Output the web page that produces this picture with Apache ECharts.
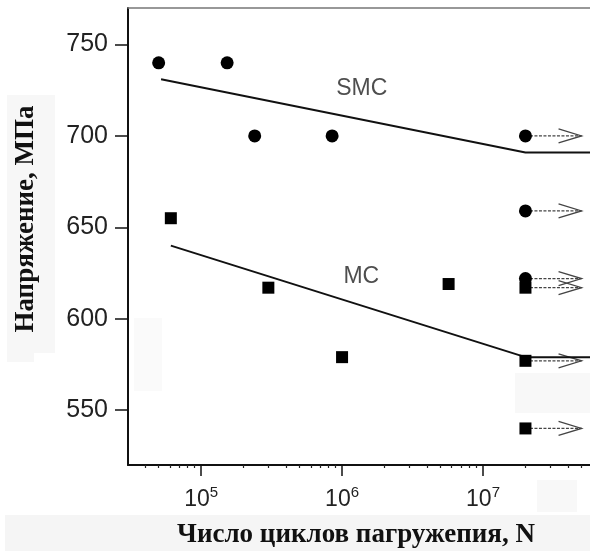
<!DOCTYPE html>
<html>
<head>
<meta charset="utf-8">
<title>Усталостная прочность SMC и MC</title>
<script src="https://cdn.jsdelivr.net/npm/echarts@6/dist/echarts.min.js"></script>
<style>
  html, body { margin: 0; padding: 0; background: #ffffff; }
  #chart { width: 590px; height: 551px; }
</style>
</head>
<body>
<div id="chart"></div>
<script>
// Fatigue test results: SMC (circles) and MC (squares)
const smcCycles = [5.0e4, 1.53e5, 2.4e5, 8.5e5, 2.0e7, 2.0e7, 2.0e7];
const smcStress = [740, 740, 700, 700, 700, 659, 622];
const mcCycles = [6.1e4, 3.0e5, 1.0e6, 5.7e6, 2.0e7, 2.0e7, 2.0e7];
const mcStress = [655, 617, 579, 619, 617, 577, 540];

// Fitted S-N lines
const smcFitCycles = [5.2e4, 2.0e7, 5.74e7];
const smcFitStress = [731, 691, 691];
const mcFitCycles = [6.1e4, 2.0e7, 5.74e7];
const mcFitStress = [640, 579, 579];

// Run-outs (specimens that did not fail)
const runoutStress = [700, 659, 622, 617, 577, 540];
const runoutStart = 2.0e7;
const runoutEnd = 5.0e7;

// Curve captions
const curveNames = ['SMC', 'MC'];
const curveLabelCycles = [1.38e6, 1.37e6];
const curveLabelStress = [726, 623];

// Axis ticks
const cycleTicks = [1e5, 1e6, 1e7];
const cycleMinorTicks = [4e4, 5e4, 6e4, 7e4, 8e4, 9e4,
  2e5, 3e5, 4e5, 5e5, 6e5, 7e5, 8e5, 9e5,
  2e6, 3e6, 4e6, 5e6, 6e6, 7e6, 8e6, 9e6,
  2e7, 3e7, 4e7, 5e7];
const stressTicks = [550, 600, 650, 700, 750];

const xMin = 3.03e4, xMax = 5.74e7;
const yMin = 520, yMax = 770;

const zip = (xs, ys) => xs.map((x, i) => [x, ys[i]]);

const chart = echarts.init(document.getElementById('chart'), null, { renderer: 'canvas' });

const tickFont = 'Liberation Sans, Arial, sans-serif';
const titleFont = 'Liberation Serif, Times New Roman, serif';

const option = {
  backgroundColor: '#ffffff',
  animation: false,
  grid: { left: 128, right: 0, top: 8, bottom: 86, containLabel: false, outerBoundsMode: 'none' },
  graphic: [
    // faint scan bands behind the titles
    { type: 'rect', z: -10, shape: { x: 7, y: 95, width: 48, height: 258 }, style: { fill: '#f7f7f7' } },
    { type: 'rect', z: -10, shape: { x: 7, y: 353, width: 27, height: 9 }, style: { fill: '#f7f7f7' } },
    { type: 'rect', z: -10, shape: { x: 5, y: 515, width: 585, height: 36 }, style: { fill: '#f5f5f5' } },
    { type: 'rect', z: -10, shape: { x: 134, y: 318, width: 28, height: 73 }, style: { fill: '#fafafa' } },
    { type: 'rect', z: -10, shape: { x: 515, y: 373, width: 75, height: 40 }, style: { fill: '#f8f8f8' } },
    { type: 'rect', z: -10, shape: { x: 537, y: 480, width: 40, height: 32 }, style: { fill: '#f8f8f8' } },
    {
      type: 'text', x: 26, y: 219, rotation: Math.PI / 2,
      style: {
        text: 'Напряжение, МПа', fill: '#111', font: 'bold 27px ' + titleFont,
        textAlign: 'center', textVerticalAlign: 'middle'
      }
    },
    {
      type: 'text', x: 356, y: 535,
      style: {
        text: 'Число циклов пагружепия, N', fill: '#111', font: 'bold 27px ' + titleFont,
        textAlign: 'center', textVerticalAlign: 'middle'
      }
    }
  ],
  xAxis: [
    {
      type: 'log', logBase: 10, min: xMin, max: xMax, position: 'bottom',
      axisLine: { show: true, lineStyle: { color: '#111', width: 2 } },
      axisTick: { show: true, customValues: cycleTicks, length: 11, inside: false, lineStyle: { color: '#111', width: 1.5 } },
      axisLabel: {
        show: true, customValues: cycleTicks, margin: 20,
        formatter: v => '{b|10}{s|' + Math.round(Math.log10(v)) + '}',
        rich: {
          b: { fontFamily: tickFont, fontSize: 23, color: '#222', lineHeight: 26, verticalAlign: 'bottom' },
          s: { fontFamily: tickFont, fontSize: 15, color: '#222', lineHeight: 15, verticalAlign: 'top' }
        }
      },
      splitLine: { show: false }
    },
    {
      type: 'log', logBase: 10, min: xMin, max: xMax, position: 'bottom',
      axisLine: { show: false },
      axisTick: { show: true, customValues: cycleMinorTicks, length: 3, inside: false, lineStyle: { color: '#222', width: 1.2 } },
      axisLabel: { show: false },
      splitLine: { show: false }
    },
    {
      type: 'log', logBase: 10, min: xMin, max: xMax, position: 'top',
      axisLine: { show: true, lineStyle: { color: '#777', width: 1.5 } },
      axisTick: { show: false },
      axisLabel: { show: false },
      splitLine: { show: false }
    }
  ],
  yAxis: {
    type: 'value', min: yMin, max: yMax,
    axisLine: { show: true, lineStyle: { color: '#111', width: 2 } },
    axisTick: { show: true, customValues: stressTicks, length: 13, inside: false, lineStyle: { color: '#111', width: 1.5 } },
    axisLabel: { show: true, customValues: stressTicks, margin: 20, fontFamily: tickFont, fontSize: 25, color: '#222' },
    splitLine: { show: false }
  },
  series: [
    {
      // run-out arrows
      type: 'custom', name: 'runout', z: 1, silent: true,
      data: runoutStress.map(s => [runoutStart, s, runoutEnd]),
      renderItem: (params, api) => {
        const a = api.coord([api.value(0), api.value(1)]);
        const b = api.coord([api.value(2), api.value(1)]);
        const style = { stroke: '#444', lineWidth: 1.3, fill: null };
        return {
          type: 'group',
          children: [
            { type: 'line', shape: { x1: a[0], y1: a[1], x2: b[0], y2: b[1] }, style: Object.assign({ lineDash: [3, 1.5] }, style) },
            { type: 'polyline', shape: { points: [[b[0] - 23, b[1] - 7], [b[0], b[1]], [b[0] - 23, b[1] + 7]] }, style: style }
          ]
        };
      }
    },
    {
      type: 'line', name: 'SMC fit', data: zip(smcFitCycles, smcFitStress), z: 2,
      symbol: 'none', lineStyle: { color: '#111', width: 2 }, silent: true
    },
    {
      type: 'line', name: 'MC fit', data: zip(mcFitCycles, mcFitStress), z: 2,
      symbol: 'none', lineStyle: { color: '#111', width: 2 }, silent: true
    },
    {
      type: 'scatter', name: 'SMC', data: zip(smcCycles, smcStress), z: 3,
      symbol: 'circle', symbolSize: 13, itemStyle: { color: '#000', opacity: 1 }
    },
    {
      type: 'scatter', name: 'MC', data: zip(mcCycles, mcStress), z: 3,
      symbol: 'rect', symbolSize: 12, itemStyle: { color: '#000', opacity: 1 }
    },
    {
      type: 'scatter', name: 'captions', z: 4, symbolSize: 0, silent: true,
      data: curveNames.map((n, i) => ({ name: n, value: [curveLabelCycles[i], curveLabelStress[i]] })),
      label: {
        show: true, position: 'inside', formatter: p => p.name,
        fontFamily: tickFont, fontSize: 23, color: '#222'
      }
    }
  ]
};

chart.setOption(option);
</script>
</body>
</html>
